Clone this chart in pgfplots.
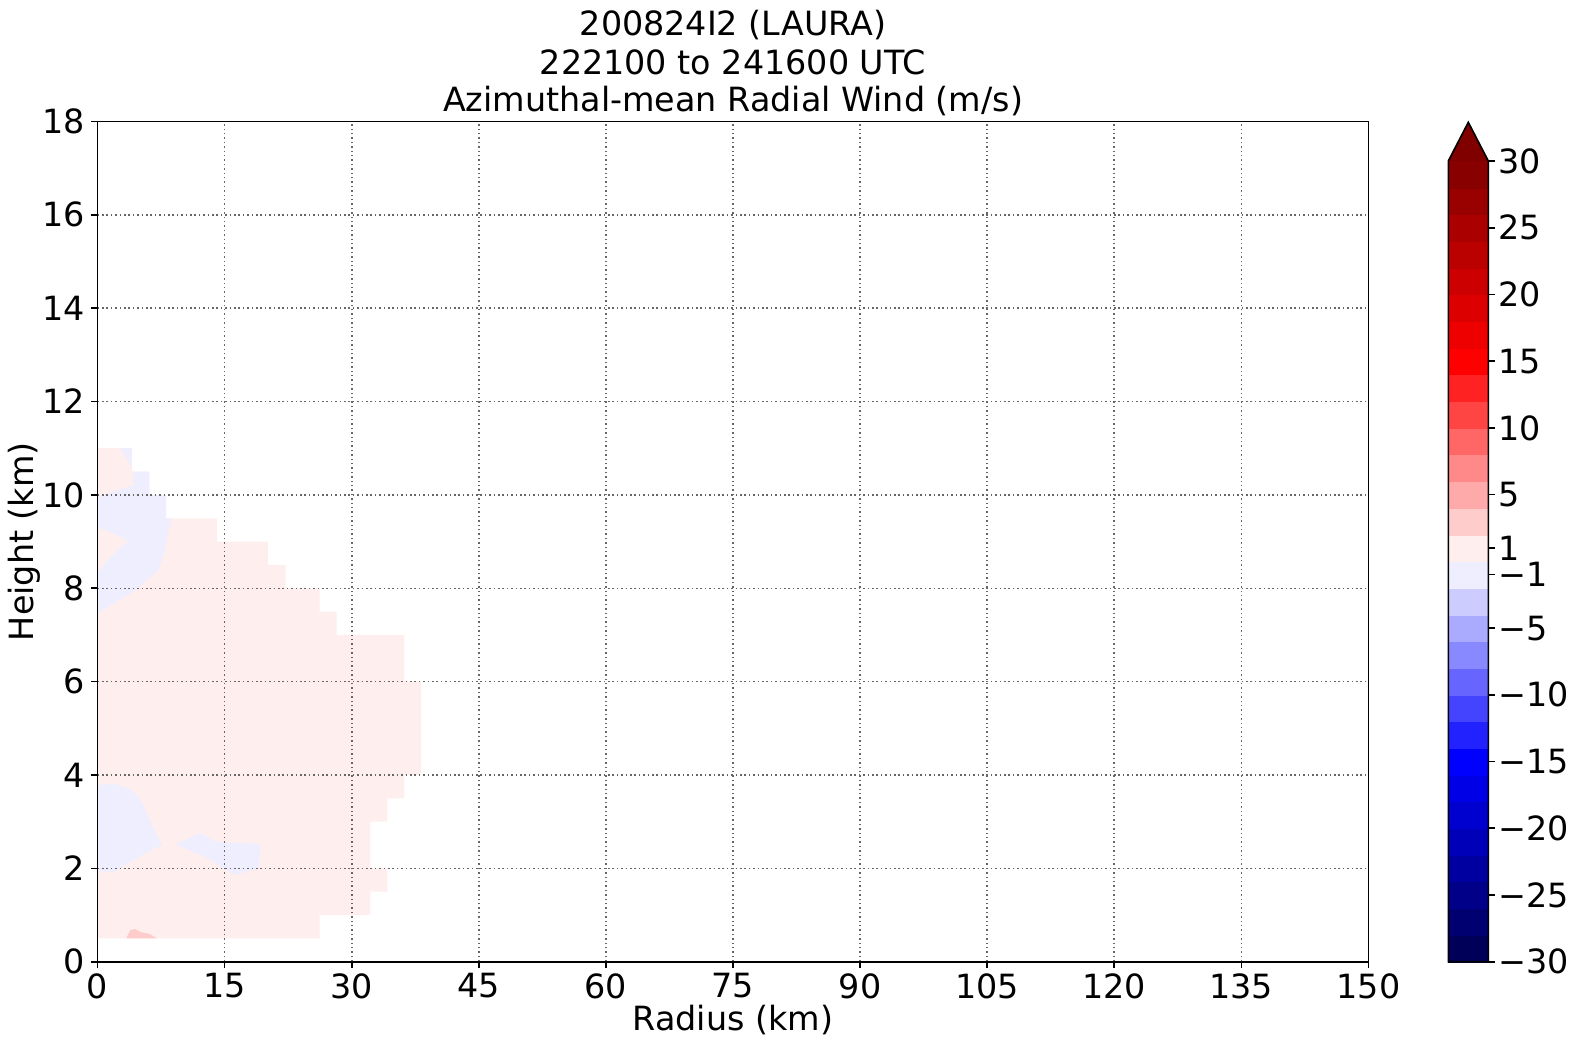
\documentclass[border=0pt]{standalone}
\usepackage{pgfplots}
\pgfplotsset{compat=1.18}
\usepackage{fontspec}
\setmainfont{DejaVu Sans}
% seismic colormap, band colours (midpoints of 2 m/s bands)
\definecolor{r1}{RGB}{255,238,238}
\definecolor{r2}{RGB}{255,204,204}
\definecolor{r3}{RGB}{255,170,170}
\definecolor{r4}{RGB}{255,136,136}
\definecolor{r5}{RGB}{255,102,102}
\definecolor{r6}{RGB}{255,68,68}
\definecolor{r7}{RGB}{255,34,34}
\definecolor{r8}{RGB}{255,0,0}
\definecolor{r9}{RGB}{238,0,0}
\definecolor{r10}{RGB}{221,0,0}
\definecolor{r11}{RGB}{204,0,0}
\definecolor{r12}{RGB}{187,0,0}
\definecolor{r13}{RGB}{170,0,0}
\definecolor{r14}{RGB}{153,0,0}
\definecolor{r15}{RGB}{136,0,0}
\definecolor{rext}{RGB}{128,0,0}
\definecolor{b1}{RGB}{238,238,255}
\definecolor{b2}{RGB}{204,204,255}
\definecolor{b3}{RGB}{170,170,255}
\definecolor{b4}{RGB}{136,136,255}
\definecolor{b5}{RGB}{102,102,255}
\definecolor{b6}{RGB}{68,68,255}
\definecolor{b7}{RGB}{34,34,255}
\definecolor{b8}{RGB}{0,0,255}
\definecolor{b9}{RGB}{0,0,231}
\definecolor{b10}{RGB}{0,0,207}
\definecolor{b11}{RGB}{0,0,184}
\definecolor{b12}{RGB}{0,0,160}
\definecolor{b13}{RGB}{0,0,136}
\definecolor{b14}{RGB}{0,0,112}
\definecolor{b15}{RGB}{0,0,88}
\newcommand{\bigfont}{\fontsize{33.5}{39}\selectfont}
\begin{document}
\begin{tikzpicture}
\path[use as bounding box] (0,0) rectangle (1574bp,1045bp);
\begin{axis}[
  name=main,
  at={(97.6bp,83.3bp)}, anchor=south west,
  scale only axis, width=1270.8bp, height=840.2bp,
  xmin=0, xmax=150, ymin=0, ymax=18,
  xtick={0,15,...,150}, ytick={0,2,...,18},
  tick align=outside, tick pos=left,
  major tick length=6.5bp,
  tick style={black, line width=1.6bp},
  axis line style={line width=1.6bp},
  grid=major,
  grid style={line width=1.5bp, dash pattern=on 1.5bp off 2.9bp, color=black!60},
  axis on top,
  tick label style={font=\bigfont},
  /pgf/number format/assume math mode=true,
  scaled ticks=false,
  xticklabel style={anchor=north, inner sep=0pt, yshift=-5.1bp},
  yticklabel style={anchor=east, inner sep=0pt, xshift=-5.9bp},
  every axis x label/.style={at={(axis description cs:0.5,-0.0813)}, anchor=base, inner sep=0pt, font=\bigfont},
  every axis y label/.style={at={(axis description cs:-0.05067,0.5)}, rotate=90, anchor=base, inner sep=0pt, font=\bigfont},
  xlabel={Radius (km)},
  ylabel={Height (km)},
  extra description/.code={
    \node[anchor=base, inner sep=0pt, font=\bigfont] at (0.5,1.1018) {200824I2 (LAURA)};
    \node[anchor=base, inner sep=0pt, font=\bigfont] at (0.5,1.05534) {222100 to 241600 UTC};
    \node[anchor=base, inner sep=0pt, font=\bigfont] at (0.5,1.01166) {Azimuthal-mean Radial Wind (m/s)};
  },
]
% 0 to 2 m/s region (masked outside)
\addplot[fill=r1, draw=none] coordinates {(0,0.5) (26.2,0.5) (26.2,1) (32.2,1) (32.2,1.5) (34.2,1.5) (34.2,2) (32.2,2) (32.2,3) (34.2,3) (34.2,3.5) (36.2,3.5) (36.2,4) (38.2,4) (38.2,6) (36.2,6) (36.2,7) (28.2,7) (28.2,7.5) (26.2,7.5) (26.2,8) (22.2,8) (22.2,8.5) (20.1,8.5) (20.1,9) (14.1,9) (14.1,9.5) (8.1,9.5) (8.1,10) (6.1,10) (6.1,10.5) (4.05,10.5) (4.05,11) (0,11)} -- cycle;
% -2 to 0 m/s upper region
\addplot[fill=b1, draw=none] coordinates {(0,7.46) (4.24,7.93) (7.19,8.39) (7.98,8.82) (8.7,9.5) (8.1,9.5) (8.1,10) (6.1,10) (6.1,10.5) (4.05,10.5) (4.05,11) (0,11)} -- cycle;
% 0 to 2 lens and top-left
\addplot[fill=r1, draw=none] coordinates {(0,9.3) (2.08,9.16) (3.57,9.0) (2.08,8.77) (0,8.35)} -- cycle;
\addplot[fill=r1, draw=none] coordinates {(0,11) (2.67,11) (4.05,10.6) (4.25,10.36) (4.2,10.21) (1.88,10.08) (0,9.93)} -- cycle;
% -2 to 0 m/s lower regions
\addplot[fill=b1, draw=none] coordinates {(0,3.78) (1.88,3.82) (4.05,3.68) (5.23,3.43) (6.4,2.93) (7.59,2.5) (6.0,2.36) (3.85,2.14) (1.88,1.91) (0,1.95)} -- cycle;
\addplot[fill=b1, draw=none] coordinates {(9.16,2.51) (12.1,2.76) (13.88,2.57) (19.27,2.52) (18.99,2.0) (16.24,1.86) (14.86,2.0) (12.7,2.25) (10.5,2.41)} -- cycle;
% 2 to 4 m/s patch
\addplot[fill=r2, draw=none] coordinates {(3.38,0.5) (3.85,0.68) (4.44,0.7) (5.03,0.64) (6.2,0.59) (7.0,0.5)} -- cycle;
\end{axis}
\begin{axis}[
  at={(1448.3bp,83.3bp)}, anchor=south west,
  scale only axis, width=40bp, height=800.7bp,
  xmin=0, xmax=1, ymin=-30, ymax=30,
  clip=false,
  axis x line=none, axis y line*=right,
  xtick=\empty,
  ytick={-30,-25,-20,-15,-10,-5,-1,1,5,10,15,20,25,30},
  yticklabels={−30,−25,−20,−15,−10,−5,−1,1,5,10,15,20,25,30},
  tick align=outside,
  major tick length=6.5bp,
  tick style={black, line width=1.6bp},
  axis line style={line width=1.6bp},
  tick label style={font=\bigfont},
  yticklabel style={anchor=west, inner sep=0pt, xshift=3.2bp},
]
\addplot[fill=b15, draw=b15, line width=0.3bp] coordinates {(0,-30) (1,-30) (1,-28) (0,-28)} -- cycle;
\addplot[fill=b14, draw=b14, line width=0.3bp] coordinates {(0,-28) (1,-28) (1,-26) (0,-26)} -- cycle;
\addplot[fill=b13, draw=b13, line width=0.3bp] coordinates {(0,-26) (1,-26) (1,-24) (0,-24)} -- cycle;
\addplot[fill=b12, draw=b12, line width=0.3bp] coordinates {(0,-24) (1,-24) (1,-22) (0,-22)} -- cycle;
\addplot[fill=b11, draw=b11, line width=0.3bp] coordinates {(0,-22) (1,-22) (1,-20) (0,-20)} -- cycle;
\addplot[fill=b10, draw=b10, line width=0.3bp] coordinates {(0,-20) (1,-20) (1,-18) (0,-18)} -- cycle;
\addplot[fill=b9, draw=b9, line width=0.3bp] coordinates {(0,-18) (1,-18) (1,-16) (0,-16)} -- cycle;
\addplot[fill=b8, draw=b8, line width=0.3bp] coordinates {(0,-16) (1,-16) (1,-14) (0,-14)} -- cycle;
\addplot[fill=b7, draw=b7, line width=0.3bp] coordinates {(0,-14) (1,-14) (1,-12) (0,-12)} -- cycle;
\addplot[fill=b6, draw=b6, line width=0.3bp] coordinates {(0,-12) (1,-12) (1,-10) (0,-10)} -- cycle;
\addplot[fill=b5, draw=b5, line width=0.3bp] coordinates {(0,-10) (1,-10) (1,-8) (0,-8)} -- cycle;
\addplot[fill=b4, draw=b4, line width=0.3bp] coordinates {(0,-8) (1,-8) (1,-6) (0,-6)} -- cycle;
\addplot[fill=b3, draw=b3, line width=0.3bp] coordinates {(0,-6) (1,-6) (1,-4) (0,-4)} -- cycle;
\addplot[fill=b2, draw=b2, line width=0.3bp] coordinates {(0,-4) (1,-4) (1,-2) (0,-2)} -- cycle;
\addplot[fill=b1, draw=b1, line width=0.3bp] coordinates {(0,-2) (1,-2) (1,0) (0,0)} -- cycle;
\addplot[fill=r1, draw=r1, line width=0.3bp] coordinates {(0,0) (1,0) (1,2) (0,2)} -- cycle;
\addplot[fill=r2, draw=r2, line width=0.3bp] coordinates {(0,2) (1,2) (1,4) (0,4)} -- cycle;
\addplot[fill=r3, draw=r3, line width=0.3bp] coordinates {(0,4) (1,4) (1,6) (0,6)} -- cycle;
\addplot[fill=r4, draw=r4, line width=0.3bp] coordinates {(0,6) (1,6) (1,8) (0,8)} -- cycle;
\addplot[fill=r5, draw=r5, line width=0.3bp] coordinates {(0,8) (1,8) (1,10) (0,10)} -- cycle;
\addplot[fill=r6, draw=r6, line width=0.3bp] coordinates {(0,10) (1,10) (1,12) (0,12)} -- cycle;
\addplot[fill=r7, draw=r7, line width=0.3bp] coordinates {(0,12) (1,12) (1,14) (0,14)} -- cycle;
\addplot[fill=r8, draw=r8, line width=0.3bp] coordinates {(0,14) (1,14) (1,16) (0,16)} -- cycle;
\addplot[fill=r9, draw=r9, line width=0.3bp] coordinates {(0,16) (1,16) (1,18) (0,18)} -- cycle;
\addplot[fill=r10, draw=r10, line width=0.3bp] coordinates {(0,18) (1,18) (1,20) (0,20)} -- cycle;
\addplot[fill=r11, draw=r11, line width=0.3bp] coordinates {(0,20) (1,20) (1,22) (0,22)} -- cycle;
\addplot[fill=r12, draw=r12, line width=0.3bp] coordinates {(0,22) (1,22) (1,24) (0,24)} -- cycle;
\addplot[fill=r13, draw=r13, line width=0.3bp] coordinates {(0,24) (1,24) (1,26) (0,26)} -- cycle;
\addplot[fill=r14, draw=r14, line width=0.3bp] coordinates {(0,26) (1,26) (1,28) (0,28)} -- cycle;
\addplot[fill=r15, draw=r15, line width=0.3bp] coordinates {(0,28) (1,28) (1,30) (0,30)} -- cycle;
% extension triangle (values above 30)
\addplot[fill=rext, draw=rext, line width=0.3bp] coordinates {(0,30) (1,30) (0.5,32.9)} -- cycle;
% outline
\addplot[draw=black, line width=1.6bp, fill=none] coordinates {(0,-30) (1,-30) (1,30) (0.5,32.9) (0,30)} -- cycle;
\end{axis}
\end{tikzpicture}
\end{document}
